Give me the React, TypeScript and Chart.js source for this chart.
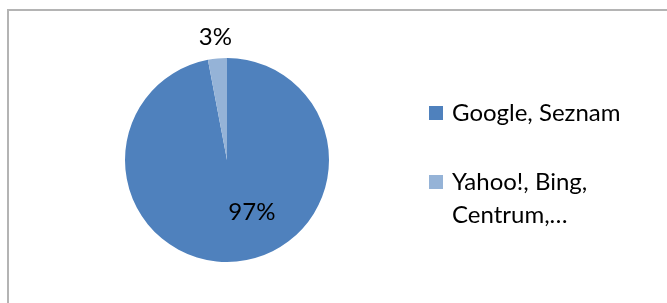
import React, { useEffect, useRef } from "react";
import { Chart, registerables } from "chart.js";

Chart.register(...registerables);

const categories = ["Google, Seznam", "Yahoo!, Bing, Centrum,…"];
const legendLines = [["Google, Seznam"], ["Yahoo!, Bing,", "Centrum,…"]];
const values = [97, 3];
const valueLabels = ["97%", "3%"];
const colors = ["#4F81BD", "#95B3D7"];

const FONT = "Lato, 'Open Sans', sans-serif";

const framePlugin = {
  id: "frame",
  beforeDraw(chart: any) {
    const ctx = chart.ctx;
    ctx.save();
    ctx.strokeStyle = "#b4b4b4";
    ctx.lineWidth = 2;
    ctx.beginPath();
    ctx.moveTo(8, 303);
    ctx.lineTo(8, 10);
    ctx.lineTo(667, 10);
    ctx.stroke();
    ctx.restore();
  },
};

const labelPlugin = {
  id: "sliceLabels",
  afterDatasetsDraw(chart: any) {
    const ctx = chart.ctx;
    const meta = chart.getDatasetMeta(0);
    ctx.save();
    ctx.font = `24px ${FONT}`;
    ctx.fillStyle = "#000";
    ctx.textAlign = "center";
    ctx.textBaseline = "middle";
    meta.data.forEach((arc: any, i: number) => {
      const { x, y, startAngle, endAngle, outerRadius } = arc.getProps(
        ["x", "y", "startAngle", "endAngle", "outerRadius"],
        true
      );
      const span = endAngle - startAngle;
      let px: number, py: number;
      if (span > Math.PI) {
        // best-fit inside placement for the large slice
        const a = startAngle + span * 0.443;
        const r = outerRadius * 0.57;
        px = x + Math.cos(a) * r;
        py = y + Math.sin(a) * r;
      } else {
        const a = (startAngle + endAngle) / 2;
        const r = outerRadius + 21;
        px = x + Math.cos(a) * r;
        py = y + Math.sin(a) * r;
      }
      ctx.fillText(valueLabels[i], px, py);
    });
    ctx.restore();
  },
};

const legendPlugin = {
  id: "sideLegend",
  afterDraw(chart: any) {
    const ctx = chart.ctx;
    ctx.save();
    ctx.font = `24px ${FONT}`;
    ctx.textAlign = "left";
    ctx.textBaseline = "alphabetic";
    const boxX = 429;
    const textX = 452;
    const lineH = 33;
    const gap = 36;
    let baseline = 121;
    legendLines.forEach((lines, i) => {
      ctx.fillStyle = colors[i];
      ctx.fillRect(boxX, baseline - 15, 14, 14);
      ctx.fillStyle = "#000";
      lines.forEach((ln, j) => {
        ctx.fillText(ln, textX, baseline + j * lineH);
      });
      baseline += lines.length * lineH + gap;
    });
    ctx.restore();
  },
};

export default function App() {
  const ref = useRef<HTMLCanvasElement>(null);
  useEffect(() => {
    if (!ref.current) return;
    const chart = new Chart(ref.current, {
      type: "pie",
      data: {
        labels: categories,
        datasets: [
          {
            data: values,
            backgroundColor: colors,
            borderWidth: 0,
          },
        ],
      },
      options: {
        responsive: false,
        animation: false,
        devicePixelRatio: 1,
        layout: { padding: { left: 125, right: 338, top: 58, bottom: 41 } },
        plugins: {
          legend: { display: false },
          tooltip: { enabled: false },
        },
      },
      plugins: [framePlugin, labelPlugin, legendPlugin],
    });
    return () => chart.destroy();
  }, []);
  return (
    <div style={{ position: "absolute", left: 0, top: 0, width: 667, height: 303, background: "#fff" }}>
      <canvas ref={ref} width={667} height={303} style={{ display: "block" }} />
    </div>
  );
}
